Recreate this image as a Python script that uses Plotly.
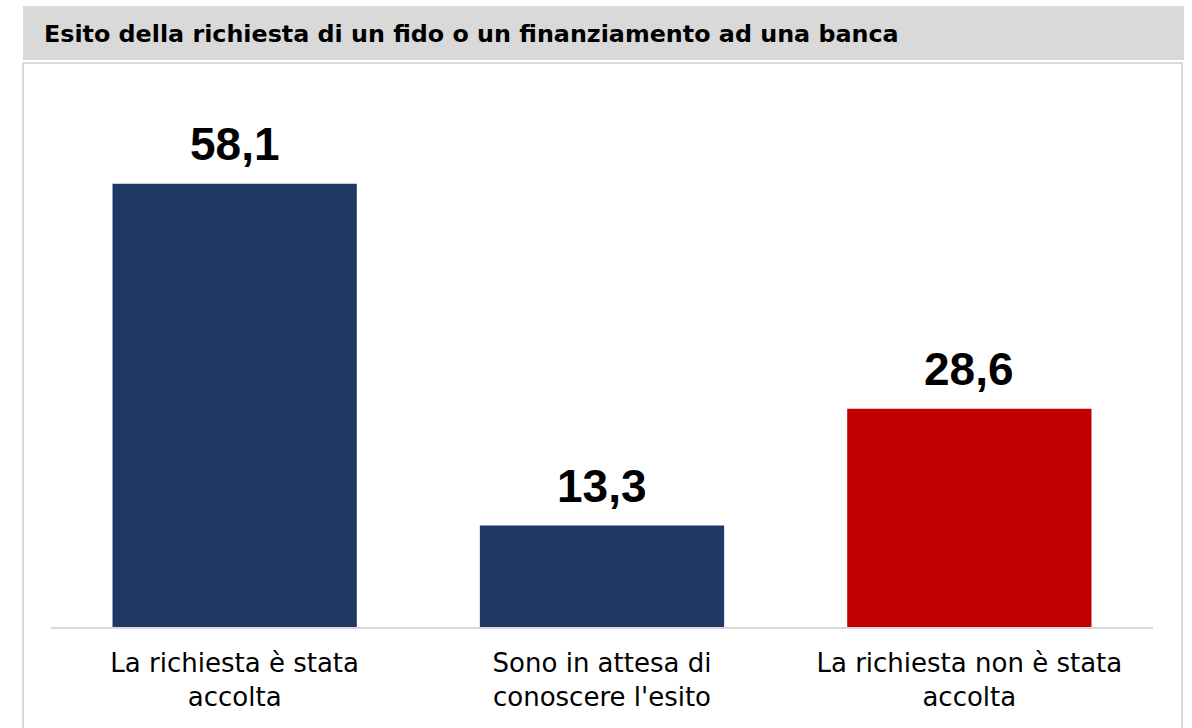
import plotly.graph_objects as go

# Outcome of a credit-line / loan request to a bank (percent of respondents)
categories = [
    "La richiesta è stata<br>accolta",
    "Sono in attesa di<br>conoscere l'esito",
    "La richiesta non è stata<br>accolta",
]
values = [58.1, 13.3, 28.6]
bar_colors = ["#203864", "#203864", "#C00000"]
title_text = "Esito della richiesta di un fido o un finanziamento ad una banca"

W, H = 1192, 728
ML, MR, MT, MB = 51, 39, 93, 101
PW, PH = W - ML - MR, H - MT - MB


def px_x(x):
    return (x - ML) / PW


def px_y(y):
    return (H - MB - y) / PH


fig = go.Figure(
    go.Bar(
        x=categories,
        y=values,
        marker=dict(color=bar_colors, line=dict(width=0)),
        hoverinfo="skip",
    )
)

# value labels above the bars, with a decimal comma
for c, v in zip(categories, values):
    fig.add_annotation(
        x=c, y=v, xref="x", yref="y",
        text=f"<b>{v:.1f}</b>".replace(".", ","),
        showarrow=False, yanchor="bottom", yshift=12,
        font=dict(family="Liberation Sans, Arial, sans-serif", size=46, color="#000000"),
    )

# header band and framed panel
fig.add_shape(
    type="rect", xref="paper", yref="paper",
    x0=px_x(23), x1=px_x(1184), y0=px_y(60), y1=px_y(6),
    fillcolor="#D9D9D9", line=dict(width=0), layer="below",
)
fig.add_shape(
    type="rect", xref="paper", yref="paper",
    x0=px_x(23), x1=px_x(1182), y0=px_y(740), y1=px_y(63),
    fillcolor="rgba(0,0,0,0)", line=dict(color="#D9D9D9", width=2), layer="below",
)
fig.add_annotation(
    xref="paper", yref="paper", x=px_x(42), y=px_y(34),
    xanchor="left", yanchor="middle", showarrow=False,
    text=f"<b>{title_text}</b>",
    font=dict(family="DejaVu Sans, sans-serif", size=23.8, color="#000000"),
)

fig.update_layout(
    width=W, height=H,
    margin=dict(l=ML, r=MR, t=MT, b=MB, pad=0),
    paper_bgcolor="#FFFFFF", plot_bgcolor="#FFFFFF",
    bargap=0.335,
    showlegend=False,
    font=dict(family="DejaVu Sans, sans-serif", color="#000000"),
    xaxis=dict(
        showline=True, linecolor="#D9D9D9", linewidth=2,
        showgrid=False, ticks="", zeroline=False,
        tickfont=dict(family="DejaVu Sans, sans-serif", size=26, color="#000000"),
        ticklabelstandoff=12,
        fixedrange=True,
    ),
    yaxis=dict(
        range=[0, 70], visible=False, showgrid=False, zeroline=False,
        fixedrange=True,
    ),
)

fig.write_html("out.html", config=dict(displayModeBar=False))
